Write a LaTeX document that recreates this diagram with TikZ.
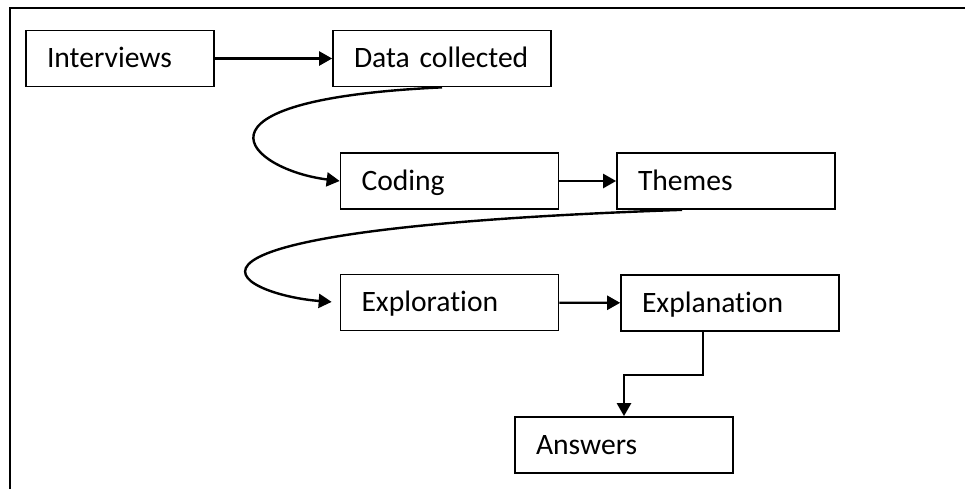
\documentclass[tikz,border=0pt]{standalone}
\usepackage{fontspec}
\setmainfont{Carlito}[Ligatures=NoCommon]
\usetikzlibrary{positioning,arrows.meta,calc}

\begin{document}
\begin{tikzpicture}[
    x=0.5pt, y=-0.5pt,
    stage/.style={draw, line width=0.85pt, inner xsep=10.5pt, inner ysep=0pt, text width=88pt, minimum height=28pt, align=left, text height=9.4pt, text depth=0pt, font=\fontsize{14.8}{17}\selectfont},
    flow/.style={-{Triangle[length=6.5pt,width=7pt]}, line width=1.2pt}
]
    \useasboundingbox (0,0) rectangle (965,489);
    \draw[line width=1.1pt] (10,489) -- (10,8) -- (965,8);

    \node[stage, text width=73pt] (interviews) at (120,58.5) {Interviews};
    \node[stage] (data) at (442,58.5) {Data collected};
    \node[stage] (coding) at (449.5,181) {Coding};
    \node[stage] (themes) at (726,181) {Themes};
    \node[stage] (exploration) at (449.5,302.5) {Exploration};
    \node[stage] (explanation) at (730,303) {Explanation};
    \node[stage] (answers) at (624,445) {Answers};

    \draw[flow] (interviews) -- (data);
    \draw[flow] (data.south) .. controls (170,100) and (250,170) .. (coding.west);
    \draw[flow] (coding) -- (themes);
    \draw[flow, shorten >=4pt] ($(themes.south west)!0.3!(themes.south east)$) .. controls (100,230) and (240,295) .. (exploration.west);
    \draw[flow] (exploration) -- (explanation);
    \draw[flow] ($(explanation.south west)!0.376!(explanation.south east)$) -- ++(0,43) -| (answers.north);
\end{tikzpicture}
\end{document}
